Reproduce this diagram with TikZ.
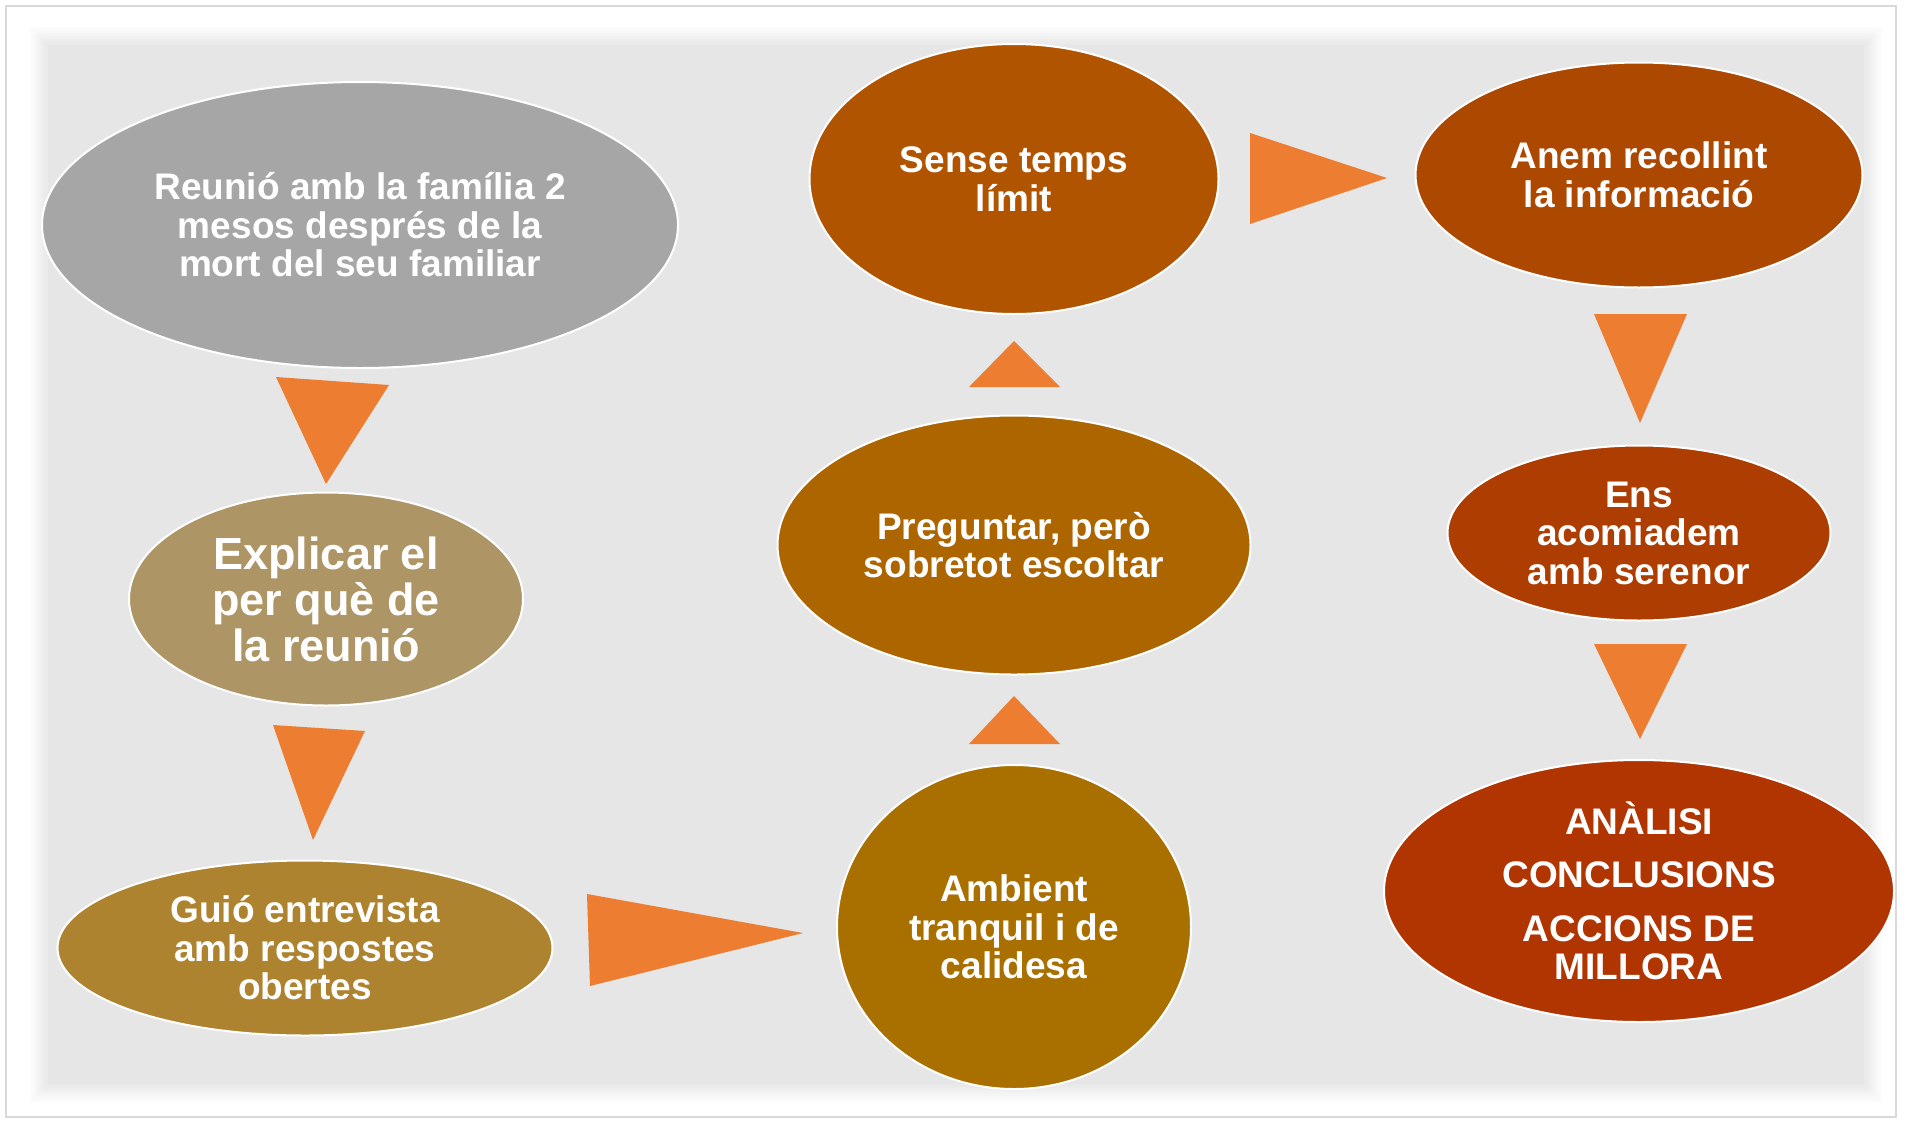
\documentclass[tikz,border=0pt]{standalone}
\usepackage{fontspec}
\setmainfont{Liberation Sans}
\usetikzlibrary{shapes.geometric}
\definecolor{cPanel}{HTML}{E6E6E6}
\definecolor{cFrame}{HTML}{D9D9D9}
\definecolor{cArrow}{HTML}{ED7D31}
\definecolor{cMeet}{HTML}{A6A6A6}
\definecolor{cWhy}{HTML}{AD9566}
\definecolor{cScript}{HTML}{AE8330}
\definecolor{cCalm}{HTML}{A97000}
\definecolor{cAsk}{HTML}{AD6500}
\definecolor{cTime}{HTML}{B05400}
\definecolor{cGather}{HTML}{AD4800}
\definecolor{cBye}{HTML}{AD3D00}
\definecolor{cEnd}{HTML}{B03500}

\begin{document}
\begin{tikzpicture}[
    x=1pt, y=-1pt,
    stage/.style={ellipse, draw=white, line width=2pt, inner sep=-10pt, align=center, text=white,
      font=\bfseries\fontsize{37}{38.5}\selectfont},
    big/.style={font=\bfseries\fontsize{45}{46}\selectfont},
    tri/.style={fill=cArrow},
  ]
  \useasboundingbox (0,0) rectangle (1908,1122);

  % --- frame and soft grey panel ---
  \draw[cFrame, line width=1.5pt] (6,6) rectangle (1896,1117);
  \foreach \i in {0,...,10} {
    \pgfmathsetmacro\p{10*\i}
    \fill[cPanel!\p!white] ({28+2*\i},{25+2*\i}) rectangle ({1884-2*\i},{1104-2*\i});
  }

  % --- left column ---
  \node[stage, fill=cMeet, minimum width=636, minimum height=286] (meet) at (360,225)
    {Reunió amb la família 2\\mesos després de la\\mort del seu familiar};
  \node[stage, big, fill=cWhy, minimum width=394, minimum height=213] (why) at (326,599)
    {Explicar el\\per què de\\la reunió};
  \node[stage, fill=cScript, minimum width=495, minimum height=175] (script) at (305,948)
    {Guió entrevista\\amb respostes\\obertes};

  % --- middle column ---
  \node[stage, fill=cCalm, minimum width=354, minimum height=324] (calm) at (1014,927)
    {Ambient\\tranquil i de\\calidesa};
  \node[stage, fill=cAsk, minimum width=473, minimum height=259] (ask) at (1014,545)
    {Preguntar, però\\sobretot escoltar};
  \node[stage, fill=cTime, minimum width=409, minimum height=270] (time) at (1014,179)
    {Sense temps\\límit};

  % --- right column ---
  \node[stage, fill=cGather, minimum width=447, minimum height=225] (gather) at (1639,175)
    {Anem recollint\\la informació};
  \node[stage, fill=cBye, minimum width=383, minimum height=175] (bye) at (1639,533)
    {Ens\\acomiadem\\amb serenor};
  \node[stage, fill=cEnd, minimum width=510, minimum height=262] (end) at (1639,891)
    {ANÀLISI\\[15pt]CONCLUSIONS\\[15pt]ACCIONS DE\\MILLORA};

  % --- arrows (triangles) ---
  \fill[tri] (276,377) -- (389,385) -- (326,484) -- cycle;
  \fill[tri] (273,725) -- (365,731) -- (313,840) -- cycle;
  \fill[tri] (587,894) -- (590,986) -- (803,933) -- cycle;
  \fill[tri] (969,744) -- (1060,744) -- (1014,696) -- cycle;
  \fill[tri] (969,387) -- (1060,387) -- (1014,341) -- cycle;
  \fill[tri] (1250,133) -- (1250,224) -- (1387,178) -- cycle;
  \fill[tri] (1594,314) -- (1687,314) -- (1640,423) -- cycle;
  \fill[tri] (1594,644) -- (1687,644) -- (1640,739) -- cycle;
\end{tikzpicture}
\end{document}
